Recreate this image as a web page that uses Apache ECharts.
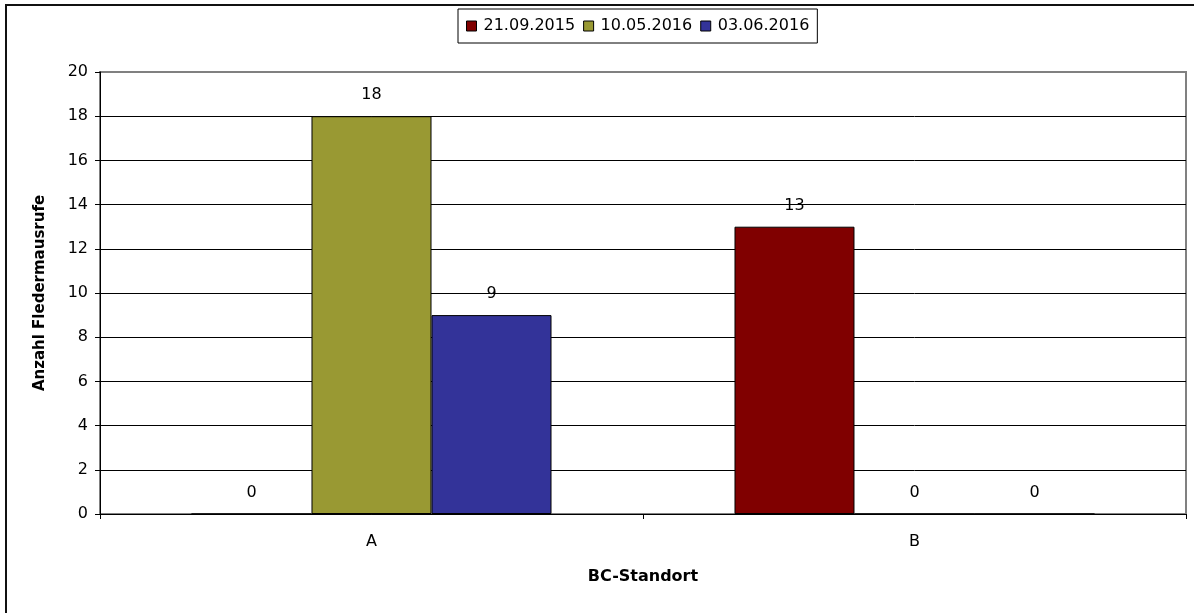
<!DOCTYPE html>
<html>
<head>
<meta charset="utf-8">
<script src="https://cdn.jsdelivr.net/npm/echarts@6/dist/echarts.min.js"></script>
<style>html,body{margin:0;padding:0;background:#fff}#c{width:1194px;height:613px}</style>
</head>
<body>
<div id="c"></div>
<script>
const categories = ['A', 'B'];
const seriesNames = ['21.09.2015', '10.05.2016', '03.06.2016'];
const values2015_09_21 = [0, 13];
const values2016_05_10 = [18, 0];
const values2016_06_03 = [9, 0];
const yTicks = [0, 2, 4, 6, 8, 10, 12, 14, 16, 18, 20];
const colors = ['#800000', '#999933', '#333399'];

const font = 'DejaVu Sans';
const chart = echarts.init(document.getElementById('c'), null, {renderer: 'canvas'});
const allValues = [values2015_09_21, values2016_05_10, values2016_06_03];

chart.setOption({
  animation: false,
  backgroundColor: '#fff',
  graphic: [{
    type: 'rect', z: 100, silent: true,
    shape: {x: 6, y: 5, width: 1400, height: 800},
    style: {fill: 'none', stroke: '#111', lineWidth: 2}
  }],
  legend: {
    data: seriesNames,
    left: 458, top: 9,
    orient: 'horizontal',
    padding: [9, 8, 9, 8],
    itemGap: 8,
    itemWidth: 10, itemHeight: 10,
    borderColor: '#000', borderWidth: 1,
    icon: 'rect',
    itemStyle: {borderColor: '#000', borderWidth: 1},
    textStyle: {fontFamily: font, fontSize: 16, color: '#000', padding: [0, 0, 0, 2]}
  },
  grid: {
    left: 100, right: 8, top: 72, bottom: 99,
    show: true, borderColor: '#808080', borderWidth: 2, backgroundColor: 'transparent'
  },
  xAxis: {
    type: 'category',
    data: categories,
    name: 'BC-Standort',
    nameLocation: 'middle',
    nameGap: 55,
    nameTextStyle: {fontFamily: font, fontSize: 16, fontWeight: 'bold', color: '#000'},
    axisLine: {lineStyle: {color: '#000', width: 1}},
    axisTick: {show: true, length: 5, lineStyle: {color: '#000'}},
    axisLabel: {margin: 20, fontFamily: font, fontSize: 16, color: '#000'},
    splitLine: {show: false}
  },
  yAxis: {
    type: 'value',
    min: 0, max: 20, interval: 2,
    name: 'Anzahl Fledermausrufe',
    nameLocation: 'middle',
    nameGap: 52,
    nameTextStyle: {fontFamily: font, fontSize: 15, fontWeight: 'bold', color: '#000'},
    axisLine: {show: true, lineStyle: {color: '#000', width: 1}},
    axisTick: {show: true, length: 5, lineStyle: {color: '#000'}},
    axisLabel: {margin: 12, fontFamily: font, fontSize: 16, color: '#000',
      formatter: v => yTicks.includes(v) ? String(v) : ''},
    splitLine: {show: true, lineStyle: {color: ['#000','#000','#000','#000','#000','#000','#000','#000','#000','#000','#808080'], width: 1}}
  },
  series: seriesNames.map((name, i) => ({
    name: name,
    type: 'bar',
    data: allValues[i],
    barGap: '0%',
    barCategoryGap: '33.7%',
    itemStyle: {color: colors[i], borderColor: '#000', borderWidth: 1},
    label: {show: true, position: 'top', distance: 13, fontFamily: font, fontSize: 16, color: '#000'}
  }))
});
</script>
</body>
</html>
